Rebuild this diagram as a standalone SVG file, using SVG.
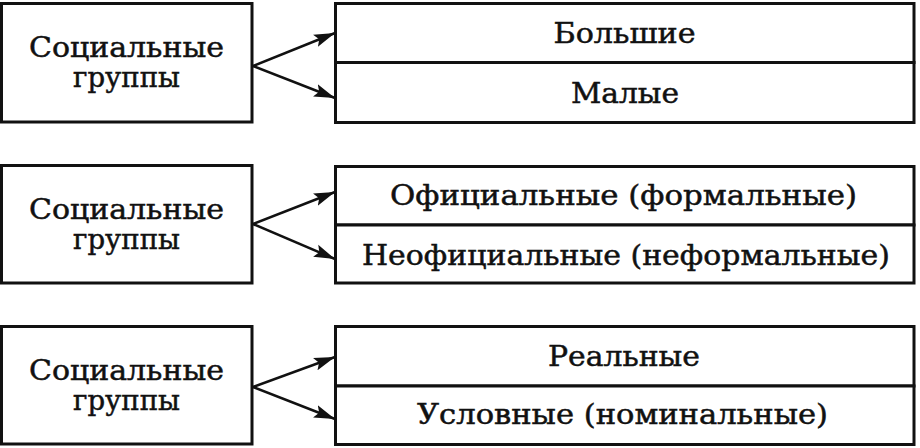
<svg xmlns="http://www.w3.org/2000/svg" width="920" height="448" viewBox="0 0 920 448">
  <style>
    .box { fill: #ffffff; stroke: #111111; stroke-width: 3; }
    .t { font-family: "DejaVu Serif", "Liberation Serif", serif; font-size: 28px; fill: #111111; stroke: #111111; stroke-width: 0.5; text-anchor: middle; }
    .conn { stroke: #111111; stroke-width: 2.5; fill: none; marker-end: url(#arr); }
  </style>
  <defs>
    <marker id="arr" markerUnits="userSpaceOnUse" markerWidth="24" markerHeight="14" refX="21" refY="7" orient="auto">
      <path d="M0,0.5 L21,7 L0,13.5 L4,7 z" fill="#111111"/>
    </marker>
  </defs>
  <rect width="920" height="448" fill="#ffffff"/>

  <!-- Row 1 -->
  <g id="src1">
    <rect class="box" x="1.5" y="3.5" width="250.5" height="118.5"/>
    <text class="t" x="126.5" y="57" textLength="195" lengthAdjust="spacingAndGlyphs">Социальные</text>
    <text class="t" x="126.5" y="87" textLength="107" lengthAdjust="spacingAndGlyphs">группы</text>
  </g>
  <g id="big">
    <rect class="box" x="335.5" y="3.5" width="578.5" height="59"/>
    <text class="t" x="624.5" y="43" textLength="142" lengthAdjust="spacingAndGlyphs">Большие</text>
  </g>
  <g id="small">
    <rect class="box" x="335.5" y="62.5" width="578.5" height="60"/>
    <text class="t" x="625" y="103" textLength="108" lengthAdjust="spacingAndGlyphs">Малые</text>
  </g>

  <!-- Row 2 -->
  <g id="src2">
    <rect class="box" x="1.5" y="165.5" width="250.5" height="117.5"/>
    <text class="t" x="126.5" y="219" textLength="195" lengthAdjust="spacingAndGlyphs">Социальные</text>
    <text class="t" x="126.5" y="249" textLength="107" lengthAdjust="spacingAndGlyphs">группы</text>
  </g>
  <g id="official">
    <rect class="box" x="335.5" y="166.5" width="578.5" height="58.5"/>
    <text class="t" x="623.5" y="205" textLength="467" lengthAdjust="spacingAndGlyphs">Официальные (формальные)</text>
  </g>
  <g id="unofficial">
    <rect class="box" x="335.5" y="225" width="578.5" height="58"/>
    <text class="t" x="626" y="265" textLength="528" lengthAdjust="spacingAndGlyphs">Неофициальные (неформальные)</text>
  </g>

  <!-- Row 3 -->
  <g id="src3">
    <rect class="box" x="1.5" y="326.5" width="250.5" height="117.5"/>
    <text class="t" x="126.5" y="380" textLength="195" lengthAdjust="spacingAndGlyphs">Социальные</text>
    <text class="t" x="126.5" y="410" textLength="107" lengthAdjust="spacingAndGlyphs">группы</text>
  </g>
  <g id="real">
    <rect class="box" x="335.5" y="326.5" width="578.5" height="59.5"/>
    <text class="t" x="624" y="366" textLength="152" lengthAdjust="spacingAndGlyphs">Реальные</text>
  </g>
  <g id="nominal">
    <rect class="box" x="335.5" y="386" width="578.5" height="58.5"/>
    <text class="t" x="622.5" y="424" textLength="411" lengthAdjust="spacingAndGlyphs">Условные (номинальные)</text>
  </g>

  <g id="connectors">
    <line class="conn" x1="253" y1="66" x2="335" y2="33"/>
    <line class="conn" x1="253" y1="66" x2="335" y2="98"/>
    <line class="conn" x1="253" y1="224" x2="335" y2="192"/>
    <line class="conn" x1="253" y1="224" x2="335" y2="259"/>
    <line class="conn" x1="253" y1="387" x2="335" y2="357"/>
    <line class="conn" x1="253" y1="387" x2="335" y2="419"/>
  </g>
</svg>
